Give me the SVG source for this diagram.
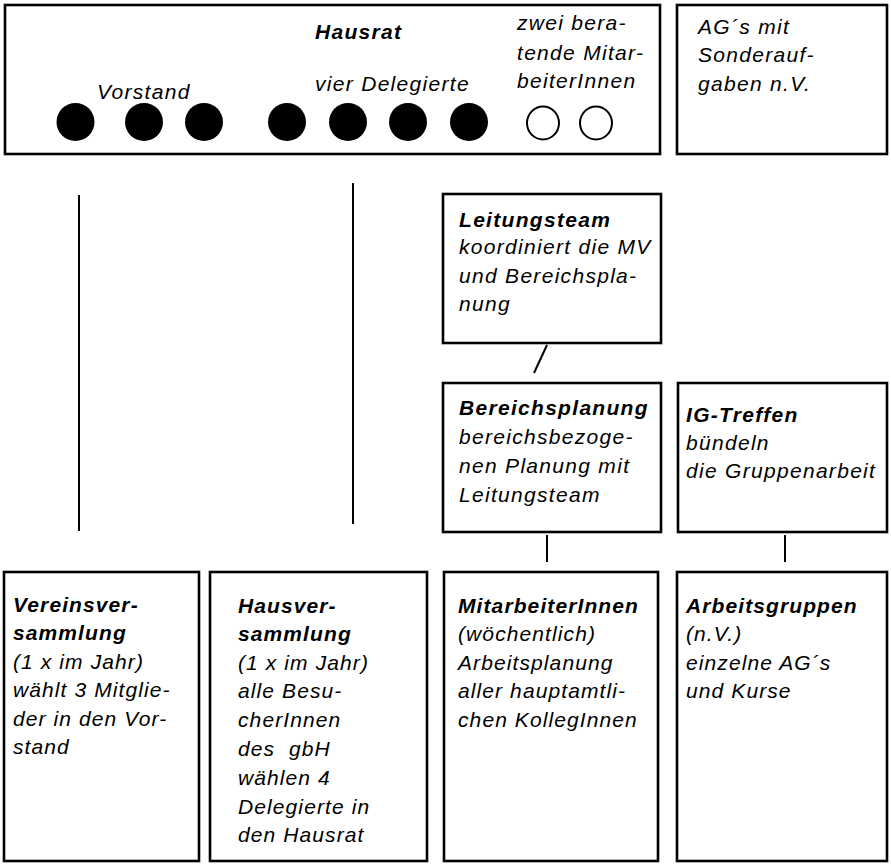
<svg xmlns="http://www.w3.org/2000/svg" width="891" height="864" viewBox="0 0 891 864">
<style>
.box{fill:#fff;stroke:#000;stroke-width:2.6}
.ln{stroke:#000;stroke-width:2;fill:none}
text{font-family:"Liberation Sans",Arial,sans-serif;font-size:21px;font-style:italic;fill:#000;letter-spacing:1.3px}
.b{font-weight:bold}
.bt{letter-spacing:1.1px}
.dot{fill:#000}
.odot{fill:#fff;stroke:#000;stroke-width:2}
</style>
<rect width="891" height="864" fill="#fff"/>
<g id="connectors">
<line class="ln" x1="79" y1="195" x2="79" y2="531"/>
<line class="ln" x1="353" y1="183" x2="353" y2="524"/>
<line class="ln" x1="547" y1="345" x2="534" y2="373"/>
<line class="ln" x1="547" y1="535" x2="547" y2="562"/>
<line class="ln" x1="785" y1="535" x2="785" y2="562"/>
</g>
<g id="hausrat">
<rect class="box" x="5" y="5" width="655" height="149"/>
<text class="b" x="315" y="39">Hausrat</text>
<text x="97" y="99">Vorstand</text>
<text x="315" y="91">vier Delegierte</text>
<text x="517" y="30">zwei bera-</text>
<text x="517" y="60">tende Mitar-</text>
<text x="517" y="88">beiterInnen</text>
<ellipse class="dot" cx="75.5" cy="122" rx="19" ry="19"/>
<ellipse class="dot" cx="144" cy="122" rx="19" ry="19"/>
<ellipse class="dot" cx="204" cy="122" rx="19" ry="19"/>
<ellipse class="dot" cx="287" cy="122" rx="19" ry="19"/>
<ellipse class="dot" cx="348" cy="122" rx="19" ry="19"/>
<ellipse class="dot" cx="408" cy="122" rx="19" ry="19"/>
<ellipse class="dot" cx="469" cy="122" rx="19" ry="19"/>
<ellipse class="odot" cx="543" cy="123" rx="16" ry="16.5"/>
<ellipse class="odot" cx="596" cy="123" rx="16" ry="16.5"/>
</g>
<g id="ag-sonder">
<rect class="box" x="677" y="5" width="210" height="149"/>
<text x="698" y="34">AG´s mit</text>
<text x="698" y="62">Sonderauf-</text>
<text x="698" y="91">gaben n.V.</text>
</g>
<g id="leitungsteam">
<rect class="box" x="443" y="194" width="218" height="149"/>
<text class="b" x="459" y="227">Leitungsteam</text>
<text x="459" y="254">koordiniert die MV</text>
<text x="459" y="283">und Bereichspla-</text>
<text x="459" y="311">nung</text>
</g>
<g id="bereichsplanung">
<rect class="box" x="443" y="383" width="218" height="149"/>
<text class="b" x="459" y="415">Bereichsplanung</text>
<text x="459" y="444">bereichsbezoge-</text>
<text x="459" y="473">nen Planung mit</text>
<text x="459" y="502">Leitungsteam</text>
</g>
<g id="ig-treffen">
<rect class="box" x="678" y="383" width="209" height="149"/>
<text class="b" x="686" y="422">IG-Treffen</text>
<text x="686" y="450">bündeln</text>
<text x="686" y="478">die Gruppenarbeit</text>
</g>
<g id="vereinsversammlung">
<rect class="box" x="4" y="572" width="195" height="289"/>
<text class="b bt" x="13" y="612">Vereinsver-</text>
<text class="b bt" x="13" y="640">sammlung</text>
<text class="bt" x="13" y="669">(1 x im Jahr)</text>
<text class="bt" x="13" y="697">wählt 3 Mitglie-</text>
<text class="bt" x="13" y="726">der in den Vor-</text>
<text class="bt" x="13" y="754">stand</text>
</g>
<g id="hausversammlung">
<rect class="box" x="210" y="572" width="217" height="289"/>
<text class="b bt" x="238" y="613">Hausver-</text>
<text class="b bt" x="238" y="641">sammlung</text>
<text class="bt" x="238" y="670">(1 x im Jahr)</text>
<text class="bt" x="238" y="698">alle Besu-</text>
<text class="bt" x="238" y="727">cherInnen</text>
<text class="bt" x="238" y="756" xml:space="preserve">des  gbH</text>
<text class="bt" x="238" y="785">wählen 4</text>
<text class="bt" x="238" y="814">Delegierte in</text>
<text class="bt" x="238" y="842">den Hausrat</text>
</g>
<g id="mitarbeiterinnen">
<rect class="box" x="444" y="572" width="214" height="289"/>
<text class="b bt" x="458" y="613">MitarbeiterInnen</text>
<text class="bt" x="458" y="641">(wöchentlich)</text>
<text class="bt" x="458" y="670">Arbeitsplanung</text>
<text class="bt" x="458" y="698">aller hauptamtli-</text>
<text class="bt" x="458" y="727">chen KollegInnen</text>
</g>
<g id="arbeitsgruppen">
<rect class="box" x="677" y="572" width="210" height="289"/>
<text class="b bt" x="686" y="613">Arbeitsgruppen</text>
<text class="bt" x="686" y="641">(n.V.)</text>
<text class="bt" x="686" y="670">einzelne AG´s</text>
<text class="bt" x="686" y="698">und Kurse</text>
</g>
</svg>
